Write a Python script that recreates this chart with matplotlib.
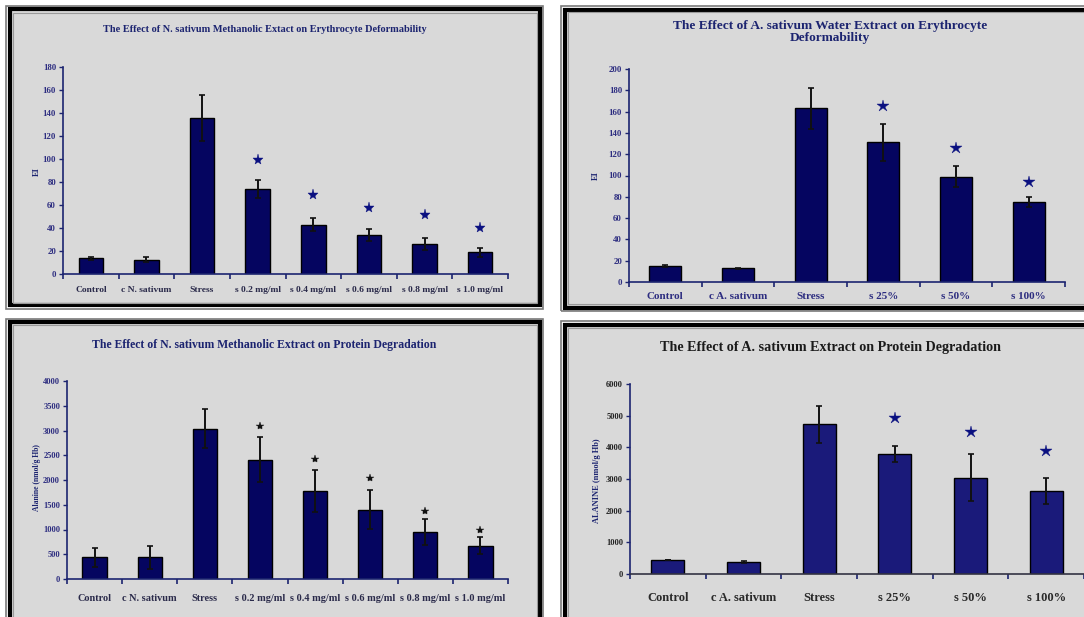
import matplotlib
matplotlib.use("Agg")
import matplotlib.pyplot as plt
from matplotlib.patches import Rectangle

W, H = 1084, 617

# --- N. sativum methanolic extract: erythrocyte deformability (EI) ---
ns_cats = ["Control", "c N. sativum", "Stress", "s 0.2 mg/ml", "s 0.4 mg/ml",
           "s 0.6 mg/ml", "s 0.8 mg/ml", "s 1.0 mg/ml"]
ns_ei = [13.5, 12.5, 136, 74, 43, 34, 26, 19]
ns_ei_err = [1.5, 2, 20, 8, 5.5, 5, 5.5, 4]
ns_ei_sig = [None, None, None, 99, 69, 57, 51, 40]
ns_ei_ticks = [0, 20, 40, 60, 80, 100, 120, 140, 160, 180]

# --- A. sativum water extract: erythrocyte deformability (EI) ---
as_cats = ["Control", "c A. sativum", "Stress", "s 25%", "s 50%", "s 100%"]
as_ei = [15, 13, 163, 131, 99, 75]
as_ei_err = [1, 0.6, 19, 17, 10, 5]
as_ei_sig = [None, None, None, 165, 126, 94]
as_ei_ticks = [0, 20, 40, 60, 80, 100, 120, 140, 160, 180, 200]

# --- N. sativum methanolic extract: protein degradation (alanine) ---
ns_ala = [440, 440, 3040, 2410, 1780, 1400, 950, 670]
ns_ala_err = [190, 230, 390, 450, 420, 390, 270, 170]
ns_ala_sig = [None, None, None, 3100, 2420, 2050, 1380, 980]
ns_ala_ticks = [0, 500, 1000, 1500, 2000, 2500, 3000, 3500, 4000]

# --- A. sativum extract: protein degradation (alanine) ---
as_ala = [450, 380, 4730, 3780, 3040, 2620]
as_ala_err = [0, 30, 580, 250, 740, 420]
as_ala_sig = [None, None, None, 4930, 4500, 3880]
as_ala_ticks = [0, 1000, 2000, 3000, 4000, 5000, 6000]

SERIF = ["Liberation Serif", "DejaVu Serif"]
NAVY = "#1c2470"
PANEL = "#d9d9d9"

fig = plt.figure(figsize=(W / 100, H / 100), dpi=100)
fig.patch.set_facecolor("white")


def frame(x0, y0, x1, y1):
    """Grey panel with a heavy black double-line border (pixel coords)."""
    def rect(a, b, c, d, **kw):
        r = Rectangle((a / W, 1 - d / H), (c - a) / W, (d - b) / H,
                      transform=fig.transFigure, zorder=-10, **kw)
        fig.add_artist(r)
    rect(x0 - 3.5, y0 - 3.5, x1 + 3.5, y1 + 3.5, facecolor="none",
         edgecolor="#7a7a7a", lw=1.2)
    rect(x0, y0, x1, y1, facecolor=PANEL, edgecolor="black", lw=3.0)
    rect(x0 + 3, y0 + 3, x1 - 3, y1 - 3, facecolor="none",
         edgecolor="#9a9a9a", lw=0.8)


def px_axes(l, t, r, b):
    ax = fig.add_axes([l / W, 1 - b / H, (r - l) / W, (b - t) / H])
    ax.set_facecolor("none")
    ax.set_zorder(5)
    return ax


def bar_panel(ax, cats, vals, errs, sig, ticks, bar_color, star_color,
              star_size, tick_fs, xlab_fs, xlab_color, ytick_color, xpad=9):
    n = len(cats)
    x = list(range(n))
    ax.bar(x, vals, width=0.44, color=bar_color, edgecolor="black",
           linewidth=1.0, zorder=2)
    ax.errorbar(x, vals, yerr=errs, fmt="none", ecolor="#111111",
                elinewidth=1.4, capsize=2.5, capthick=1.2, zorder=3)
    for xi, s in zip(x, sig):
        if s is not None:
            ax.plot(xi, s, marker="*", color=star_color, markersize=star_size,
                    markeredgewidth=0.3, linestyle="none", zorder=4)
    ax.set_xlim(-0.5, n - 0.5)
    ax.set_ylim(ticks[0], ticks[-1])
    ax.set_yticks(ticks)
    ax.set_yticklabels([str(t) for t in ticks], fontsize=tick_fs,
                       fontweight="bold", color=ytick_color, family=SERIF)
    ax.set_xticks(x)
    ax.set_xticklabels(cats, fontsize=xlab_fs, fontweight="bold",
                       color=xlab_color, family=SERIF)
    ax.set_xticks([i - 0.5 for i in range(n + 1)], minor=True)
    ax.tick_params(axis="x", which="major", length=0, pad=xpad)
    ax.tick_params(axis="x", which="minor", length=3.5, width=1.2,
                   color=NAVY, direction="out")
    ax.tick_params(axis="y", length=3, width=1.0, color=NAVY, pad=2)
    for s in ("top", "right"):
        ax.spines[s].set_visible(False)
    for s in ("left", "bottom"):
        ax.spines[s].set_color(NAVY)
        ax.spines[s].set_linewidth(1.2)


# panel frames
frame(9.5, 9.5, 539.5, 305.5)
frame(564.5, 9.5, 1100, 307.5)
frame(9.5, 322.5, 539.5, 640)
frame(564.5, 324.5, 1100, 640)

# top-left
ax1 = px_axes(63, 67, 508, 274)
bar_panel(ax1, ns_cats, ns_ei, ns_ei_err, ns_ei_sig, ns_ei_ticks,
          "#050560", "#0a1080", 8, 6.3, 6.8, "#2a2a4a", "#2d2d80", xpad=9)
fig.text(265 / W, 1 - 30 / H,
         "The Effect of N. sativum Methanolic Extact on Erythrocyte Deformability",
         ha="center", va="center", fontsize=7.4, fontweight="bold",
         color=NAVY, family=SERIF)
fig.text(37 / W, 1 - 172 / H, "EI", rotation=90, ha="center", va="center",
         fontsize=6, fontweight="bold", color=NAVY, family=SERIF)

# top-right
ax2 = px_axes(629, 69, 1065, 282)
bar_panel(ax2, as_cats, as_ei, as_ei_err, as_ei_sig, as_ei_ticks,
          "#050560", "#0a1080", 9, 6.3, 8.0, "#2d2d80", "#2d2d80", xpad=7)
fig.text(830 / W, 1 - 32 / H,
         "The Effect of A. sativum Water Extract on Erythrocyte\nDeformability",
         ha="center", va="center", fontsize=9.6, fontweight="bold",
         color=NAVY, family=SERIF, linespacing=1.1)
fig.text(596 / W, 1 - 176 / H, "EI", rotation=90, ha="center", va="center",
         fontsize=6, fontweight="bold", color=NAVY, family=SERIF)

# bottom-left
ax3 = px_axes(67, 381, 508, 579)
bar_panel(ax3, ns_cats, ns_ala, ns_ala_err, ns_ala_sig, ns_ala_ticks,
          "#050560", "#111111", 6, 6.0, 7.4, "#2a2a4a", "#2d2d80", xpad=11)
fig.text(264 / W, 1 - 345 / H,
         "The Effect of N. sativum Methanolic Extract on Protein Degradation",
         ha="center", va="center", fontsize=8.5, fontweight="bold",
         color=NAVY, family=SERIF)
fig.text(37 / W, 1 - 478 / H, "Alanine (nmol/g Hb)", rotation=90,
         ha="center", va="center", fontsize=5.5, fontweight="bold",
         color=NAVY, family=SERIF)

# bottom-right
ax4 = px_axes(630, 384, 1084, 574)
bar_panel(ax4, as_cats, as_ala, as_ala_err, as_ala_sig, as_ala_ticks,
          "#1a1a7a", "#0a1080", 9, 6.0, 9.0, "#2a2a2a", "#222222", xpad=13)
ax4.spines["bottom"].set_color("#333344")
fig.text(831 / W, 1 - 347 / H,
         "The Effect of A. sativum Extract on Protein Degradation",
         ha="center", va="center", fontsize=10.2, fontweight="bold",
         color="#1a1a1a", family=SERIF)
fig.text(597 / W, 1 - 481 / H, "ALANINE (nmol/g Hb)", rotation=90,
         ha="center", va="center", fontsize=6, fontweight="bold",
         color=NAVY, family=SERIF)

fig.savefig("out.png", dpi=100, facecolor=fig.get_facecolor())
